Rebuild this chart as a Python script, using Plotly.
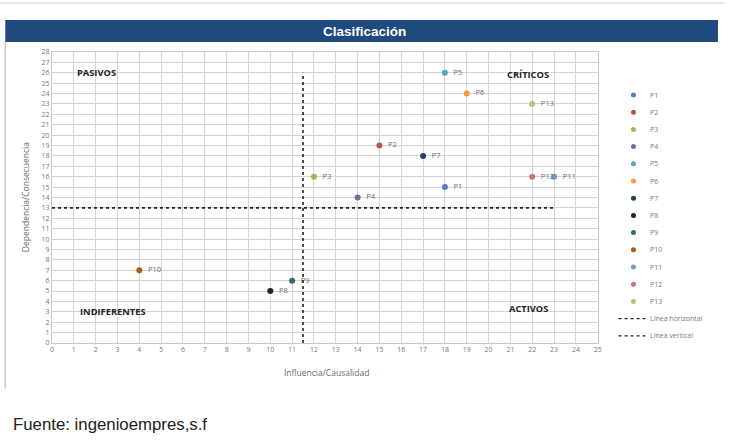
import plotly.graph_objects as go

# ---- data ----
names = ["P1", "P2", "P3", "P4", "P5", "P6", "P7", "P8", "P9", "P10", "P11", "P12", "P13"]
influencia = [18, 15, 12, 14, 18, 19, 17, 10, 11, 4, 23, 22, 22]
dependencia = [15, 19, 16, 14, 26, 24, 18, 5, 6, 7, 16, 16, 23]
colors = ["#4F81BD", "#C0504D", "#9BBB59", "#8064A2", "#4BACC6", "#F79646",
          "#24405F", "#1E2235", "#2E6F6A", "#B65708", "#729ACA", "#CD7371", "#AFC97A"]

line_names = ["Línea horizontal", "Línea vertical"]
h_line_x = [0, 23]
h_line_y = [13, 13]
v_line_x = [11.5, 11.5]
v_line_y = [0, 26]

quadrants = ["PASIVOS", "CRÍTICOS", "INDIFERENTES", "ACTIVOS"]
quad_x = [2.05, 21.8, 2.8, 21.85]
quad_y = [26.0, 25.8, 3.0, 3.3]

x_ticks = list(range(0, 26))
y_ticks = list(range(0, 29))

# ---- layout geometry (pixels) ----
W, H = 729, 440
L, R, T, B = 52, 10, 52, 97
pw, ph = W - L - R, H - T - B
PLOT_RIGHT = 601


def px(x):
    return (x - L) / pw


def py(y):
    return (H - B - y) / ph


fig = go.Figure()

for n, x, y, c in zip(names, influencia, dependencia, colors):
    fig.add_trace(go.Scatter(
        x=[x], y=[y], mode="markers+text", name=n,
        text=[n], texttemplate="  %{text}", textposition="middle right",
        textfont=dict(size=7.5, color="#6a6a6a", family="Open Sans"),
        marker=dict(size=6, color=c),
        cliponaxis=False, showlegend=False,
    ))

dot_line = dict(color="#222222", width=1.6, dash="dot")
fig.add_trace(go.Scatter(x=h_line_x, y=h_line_y, mode="lines", name=line_names[0],
                         line=dot_line, showlegend=False))
fig.add_trace(go.Scatter(x=v_line_x, y=v_line_y, mode="lines", name=line_names[1],
                         line=dot_line, showlegend=False))

for q, qx, qy in zip(quadrants, quad_x, quad_y):
    fig.add_annotation(x=qx, y=qy, text="<b>" + q + "</b>", showarrow=False,
                       xanchor="center", yanchor="middle",
                       font=dict(size=9.3, color="#222222", family="Open Sans"))

# ---- manual legend on a pixel-scaled helper axis ----
LEG_MARK_X, LEG_TEXT_X = 637, 652
LEG_Y0, LEG_DY = 95, 17.2
leg_idx = list(range(len(names)))
leg_y = [LEG_Y0 + LEG_DY * i for i in leg_idx]
fig.add_trace(go.Scatter(
    x=[LEG_MARK_X] * len(names), y=leg_y, mode="markers",
    marker=dict(size=5, color=colors), xaxis="x2", yaxis="y2",
    showlegend=False, hoverinfo="skip"))
for n, yy in zip(names, leg_y):
    fig.add_annotation(x=LEG_TEXT_X, y=yy, xref="x2", yref="y2", text=n,
                       showarrow=False, xanchor="left", yanchor="middle",
                       font=dict(size=7, color="#7a7a7a", family="Open Sans"))
for j, ln in enumerate(line_names):
    yy = LEG_Y0 + LEG_DY * (len(names) + j)
    fig.add_trace(go.Scatter(x=[622, 649], y=[yy, yy], mode="lines",
                             line=dict(color="#222222", width=1.3, dash="dot"),
                             xaxis="x2", yaxis="y2", showlegend=False, hoverinfo="skip"))
    fig.add_annotation(x=LEG_TEXT_X, y=yy, xref="x2", yref="y2", text=ln,
                       showarrow=False, xanchor="left", yanchor="middle",
                       font=dict(size=7, color="#7a7a7a", family="Open Sans"))

# title bar
fig.add_shape(type="rect", xref="paper", yref="paper",
              x0=px(5), x1=px(722), y0=py(42), y1=py(20),
              fillcolor="#1F4A7E", line=dict(width=0), layer="below")
fig.add_annotation(xref="paper", yref="paper", x=px(366), y=py(31),
                   xanchor="center", yanchor="middle",
                   text="<b>Clasificación</b>", showarrow=False,
                   font=dict(size=13.5, color="white", family="Liberation Sans"))
# frame lines
fig.add_shape(type="line", xref="paper", yref="paper",
              x0=px(5), x1=px(5), y0=py(42), y1=py(388),
              line=dict(color="#c8c8c8", width=1.5))
fig.add_shape(type="line", xref="paper", yref="paper",
              x0=px(0), x1=px(729), y0=py(3), y1=py(3),
              line=dict(color="#dcdcdc", width=1.5))

# axis titles
fig.add_annotation(xref="paper", yref="paper", x=px(328), y=py(372),
                   xanchor="center", yanchor="middle",
                   text="Influencia/Causalidad", showarrow=False,
                   font=dict(size=8.5, color="#6a6a6a", family="Open Sans"))
fig.add_annotation(xref="paper", yref="paper", x=px(25), y=py(197),
                   xanchor="center", yanchor="middle",
                   text="Dependencia/Consecuencia", showarrow=False, textangle=-90,
                   font=dict(size=8.5, color="#6a6a6a", family="Open Sans"))
# source
fig.add_annotation(xref="paper", yref="paper", x=px(11), y=py(425),
                   xanchor="left", yanchor="middle",
                   text="Fuente: ingenioempres,s.f", showarrow=False,
                   font=dict(size=16.8, color="#222222", family="Liberation Sans"))

axis_common = dict(showgrid=True, gridcolor="#d4d4d4", gridwidth=1, zeroline=False,
                   showline=True, linecolor="#c8c8c8", mirror=True, ticks="",
                   tickfont=dict(size=7, color="#777777", family="Open Sans"),
                   fixedrange=True)
fig.update_layout(
    xaxis=dict(range=[0, 25], tickvals=x_ticks, domain=[0, px(PLOT_RIGHT)], **axis_common),
    yaxis=dict(range=[0, 28], tickvals=y_ticks, **axis_common),
    xaxis2=dict(domain=[px(610), 1], range=[610, W - R], visible=False, fixedrange=True),
    yaxis2=dict(domain=[0, 1], range=[H - B, T], visible=False, fixedrange=True,
                anchor="x2"),
)
fig.update_layout(
    width=W, height=H,
    margin=dict(l=L, r=R, t=T, b=B),
    paper_bgcolor="white", plot_bgcolor="white",
    showlegend=False,
)

fig.write_html("out.html", config={"displayModeBar": False},
               post_script="document.body.style.margin='0';")
